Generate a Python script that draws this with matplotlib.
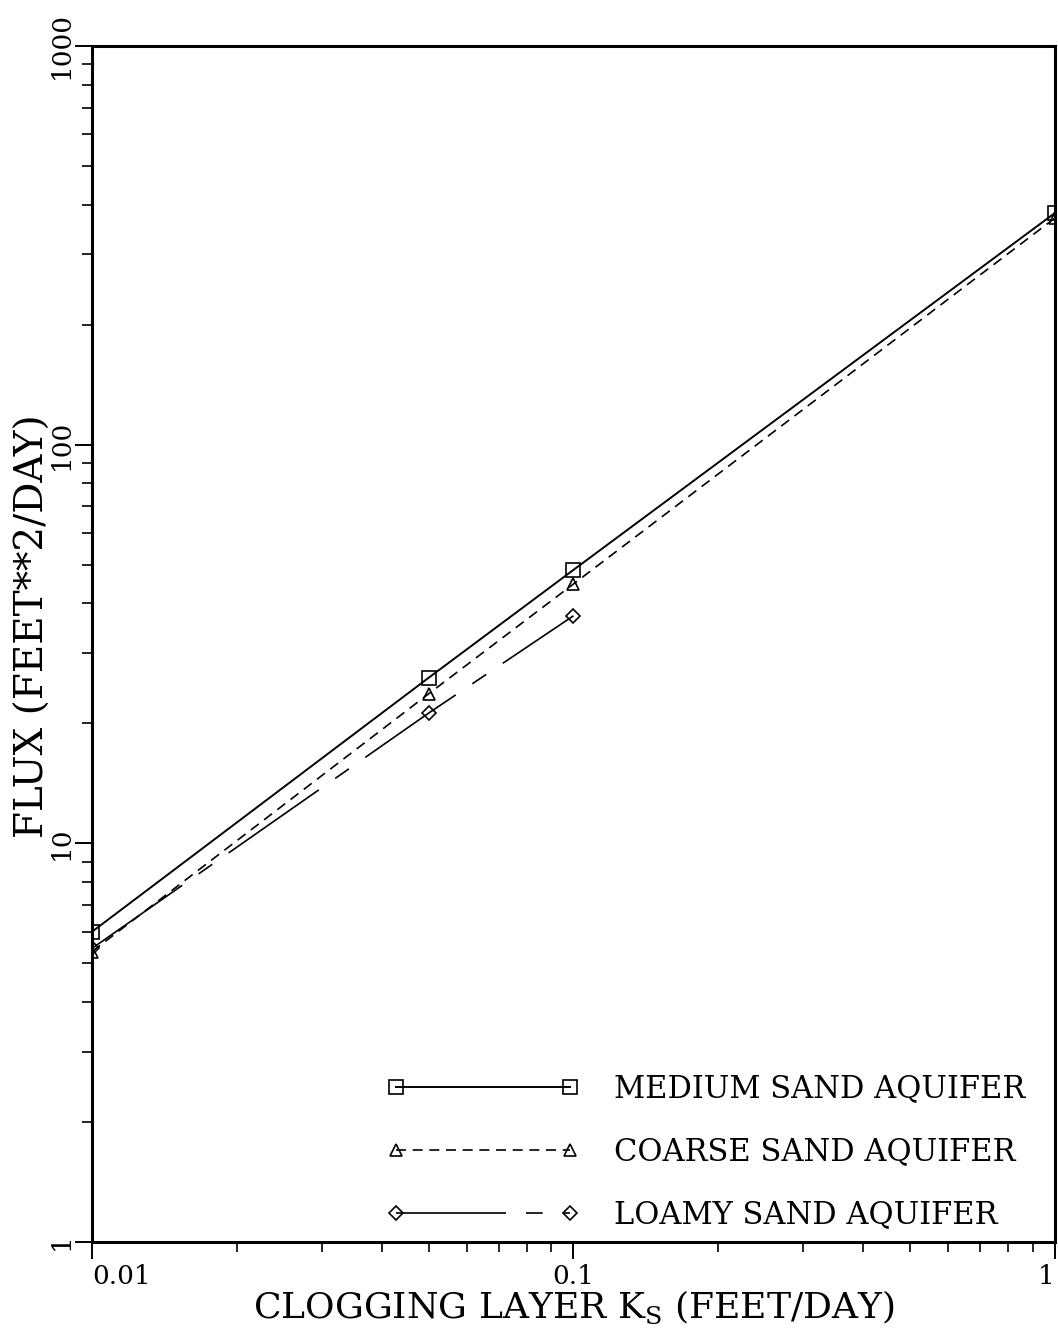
import matplotlib.pyplot as plt
from matplotlib.ticker import FixedLocator, LogLocator, NullFormatter

# clogging layer conductivity (ft/day) and flux (ft^2/day)
ks_medium = [0.01, 0.05, 0.1, 1.0]
flux_medium = [6.0, 26.0, 48.5, 381.0]

ks_coarse = [0.01, 0.05, 0.1, 1.0]
flux_coarse = [5.35, 23.7, 44.7, 370.0]

ks_loamy = [0.01, 0.05, 0.1]
flux_loamy = [5.45, 21.2, 37.2]

x_ticks = [0.01, 0.1, 1]
x_ticklabels = ["0.01", "0.1", "1"]
y_ticks = [1, 10, 100, 1000]
y_ticklabels = ["1", "10", "100", "1000"]


def main():
    plt.rcParams["font.family"] = ["DejaVu Serif"]

    fig = plt.figure(figsize=(10.58, 13.36), dpi=100)
    ax = fig.add_axes([0.087, 0.0704, 0.910, 0.8952])

    ax.plot(ks_medium, flux_medium, color="black", lw=1.4, ls="-",
            marker="s", ms=10, mfc="none", mec="black", mew=1.2,
            label="MEDIUM SAND AQUIFER")
    ax.plot(ks_coarse, flux_coarse, color="black", lw=1.2, dashes=(6, 4),
            marker="^", ms=9, mfc="none", mec="black", mew=1.2,
            label="COARSE SAND AQUIFER")
    ax.plot(ks_loamy, flux_loamy, color="black", lw=1.2,
            dashes=(66, 12, 10, 12),
            marker="D", ms=7, mfc="none", mec="black", mew=1.2,
            label="LOAMY SAND AQUIFER")

    ax.set_xscale("log")
    ax.set_yscale("log")
    ax.set_xlim(0.01, 1)
    ax.set_ylim(1, 1000)

    ax.xaxis.set_major_locator(FixedLocator(x_ticks))
    ax.set_xticklabels(x_ticklabels)
    xlabels = ax.get_xticklabels()
    xlabels[0].set_ha("left")
    xlabels[-1].set_ha("right")
    ax.yaxis.set_major_locator(FixedLocator(y_ticks))
    ax.set_yticklabels(y_ticklabels, rotation=90, va="center")
    for axis in (ax.xaxis, ax.yaxis):
        axis.set_minor_locator(LogLocator(base=10, subs=range(2, 10)))
        axis.set_minor_formatter(NullFormatter())

    ax.tick_params(which="major", direction="out", length=12, width=1.4,
                   labelsize=19, pad=4)
    ax.tick_params(axis="y", which="major", pad=1)
    ax.tick_params(which="minor", direction="out", length=7, width=1.2)
    for sp in ax.spines.values():
        sp.set_linewidth(2.2)

    ax.set_xlabel(r"CLOGGING LAYER K$_{\mathregular{S}}$ (FEET/DAY)",
                  fontsize=26, labelpad=0)
    ax.set_ylabel("FLUX (FEET**2/DAY)", fontsize=28)
    ax.yaxis.set_label_coords(-0.042, 0.515)

    leg = ax.legend(loc="lower right", bbox_to_anchor=(0.9917, -0.0084),
                    frameon=False, fontsize=22,
                    numpoints=2, handlelength=6.3, handletextpad=1.15,
                    labelspacing=1.05, borderaxespad=0.4, borderpad=0.3)
    leg.set_zorder(5)

    fig.savefig("out.png", dpi=100)


if __name__ == "__main__":
    main()
